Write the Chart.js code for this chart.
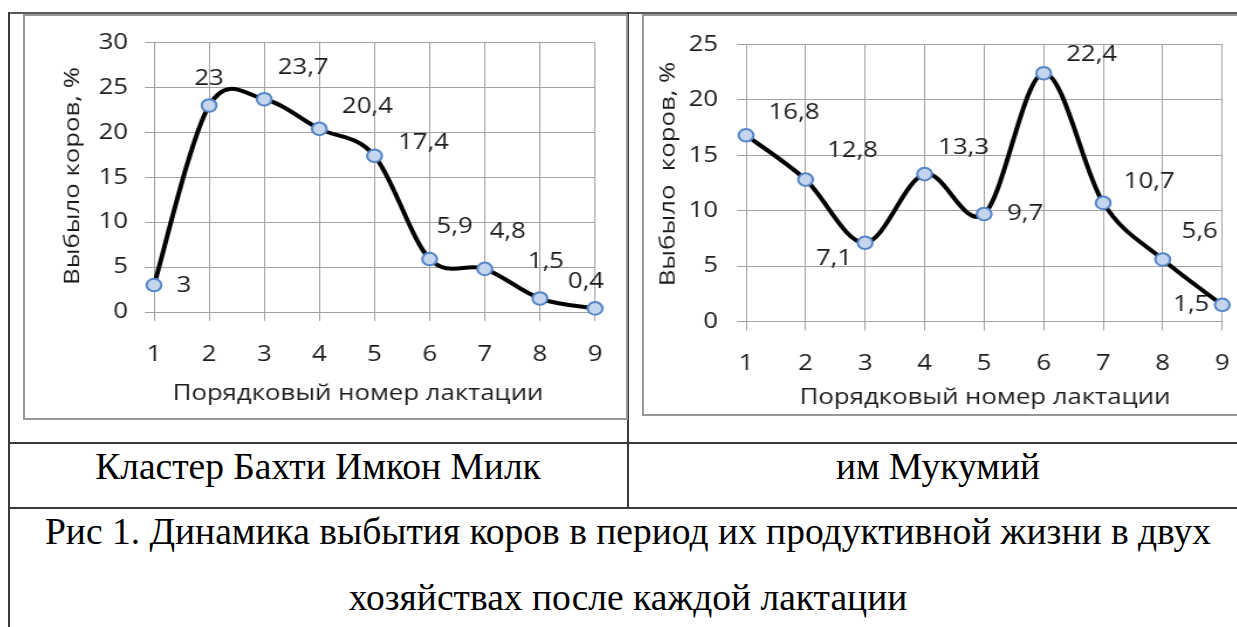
<!DOCTYPE html>
<html lang="ru">
<head>
<meta charset="utf-8">
<title>Динамика выбытия коров</title>
<script src="https://cdn.jsdelivr.net/npm/chart.js@4.4.1/dist/chart.umd.min.js"></script>
<style>
  html, body { margin: 0; padding: 0; background: #fff; }
  body { position: relative; width: 1237px; height: 627px; overflow: hidden;
         font-family: "Liberation Serif", "Times New Roman", serif; }
  .ln { position: absolute; background: #3a3a3a; }
  .box { position: absolute; border: 2px solid #979797; box-sizing: border-box; }
  canvas { position: absolute; }
  .cap { position: absolute; font-size: 37.5px; line-height: 37.5px; color: #000;
         text-align: center; white-space: nowrap; }
</style>
</head>
<body>
  <!-- table grid -->
  <div class="ln" style="left:8px;top:12px;width:1229px;height:2px;background:#5a5a5a"></div>
  <div class="ln" style="left:8px;top:12px;width:2px;height:615px"></div>
  <div class="ln" style="left:627px;top:12px;width:2px;height:496px"></div>
  <div class="ln" style="left:8px;top:442px;width:1229px;height:2px"></div>
  <div class="ln" style="left:8px;top:507px;width:1229px;height:2px"></div>

  <!-- the chart canvases are drawn narrower and widened on screen (Calibri-like wide text) -->
  <canvas id="chartLeft" width="515" height="404" style="left:24px;top:15px;width:603px;height:404px"></canvas>
  <canvas id="chartRight" width="521" height="400" style="left:643px;top:15px;width:610px;height:400px"></canvas>
  <div class="box" style="left:23px;top:14px;width:605px;height:406px"></div>
  <div class="box" style="left:642px;top:14px;width:620px;height:402px"></div>

  <div class="cap" style="left:8px;top:448px;width:620px">Кластер Бахти Имкон Милк</div>
  <div class="cap" style="left:628px;top:448px;width:620px">им Мукумий</div>
  <div class="cap" style="left:8px;top:513px;width:1240px">Рис 1. Динамика выбытия коров в период их продуктивной жизни в двух</div>
  <div class="cap" style="left:8px;top:579px;width:1240px">хозяйствах после каждой лактации</div>

<script>
// Lactation numbers and share of cows culled after each one, %
const lactations = ['1', '2', '3', '4', '5', '6', '7', '8', '9'];
const bakhtiImkonMilk = [3, 23, 23.7, 20.4, 17.4, 5.9, 4.8, 1.5, 0.4];
const imMukumiy = [16.8, 12.8, 7.1, 13.3, 9.7, 22.4, 10.7, 5.6, 1.5];

const bakhtiAxisMax = 30;
const mukumiyAxisMax = 25;
const axisStep = 5;

const yTitleLeft = 'Выбыло коров, %';
const yTitleRight = 'Выбыло  коров, %';
const xTitle = 'Порядковый номер лактации';

// where each value label sits relative to its marker (screen px)
const bakhtiLabelShift = [[30, 1], [0, -27], [39, -32], [48, -22], [49, -13], [25, -32], [23, -37], [6, -37], [-9, -27]];
const mukumiyLabelShift = [[48, -23], [47, -29], [-31, 16], [39, -26], [41, 0], [48, -18], [46, -21], [37, -28], [-31, 0]];

const FONT = '"Open Sans", "Noto Sans", sans-serif';
const FONT_SIZE = 22;
const TEXT = '#1c1c1c';
const GRID = '#a2a2a2';

Chart.defaults.font.family = FONT;
Chart.defaults.font.size = FONT_SIZE;
Chart.defaults.color = TEXT;

// horizontal widening of a canvas on screen
function stretchOf(chart) {
  return chart.canvas.getBoundingClientRect().width / chart.canvas.width;
}

// Smoothed line: uniform Catmull-Rom control points (1/6 of neighbour span)
const smoothCurve = {
  id: 'smoothCurve',
  beforeDatasetDraw(chart, args) {
    const meta = args.meta;
    meta.dataset.updateControlPoints(chart.chartArea, meta.iScale.axis);
    const p = meta.data;
    const n = p.length;
    for (let i = 0; i < n; i++) {
      const prev = p[Math.max(i - 1, 0)];
      const next = p[Math.min(i + 1, n - 1)];
      const dx = (next.x - prev.x) / 6;
      const dy = (next.y - prev.y) / 6;
      p[i].cp1x = p[i].x - dx; p[i].cp1y = p[i].y - dy;
      p[i].cp2x = p[i].x + dx; p[i].cp2y = p[i].y + dy;
    }
  }
};

function valueLabels(shifts) {
  return {
    id: 'valueLabels',
    afterDatasetsDraw(chart) {
      const ctx = chart.ctx;
      const k = stretchOf(chart);
      const meta = chart.getDatasetMeta(0);
      const values = chart.data.datasets[0].data;
      ctx.save();
      ctx.font = FONT_SIZE + 'px ' + FONT;
      ctx.fillStyle = TEXT;
      ctx.textAlign = 'center';
      ctx.textBaseline = 'middle';
      meta.data.forEach((pt, i) => {
        const [ox, oy] = shifts[i];
        ctx.fillText(String(values[i]).replace('.', ','), pt.x + ox / k, pt.y + oy);
      });
      ctx.restore();
    }
  };
}

// Axis titles; the vertical one keeps its glyph shape under the horizontal widening
function axisTitles(t) {
  return {
    id: 'axisTitles',
    afterDraw(chart) {
      const ctx = chart.ctx;
      const k = stretchOf(chart);
      ctx.save();
      ctx.font = FONT_SIZE + 'px ' + FONT;
      ctx.fillStyle = TEXT;
      ctx.textAlign = 'center';
      ctx.textBaseline = 'middle';
      ctx.fillText(xTitle, t.xAt[0] / k, t.xAt[1]);
      ctx.translate(t.yAt[0] / k, t.yAt[1]);
      ctx.scale(1 / k, 1);
      ctx.rotate(-Math.PI / 2);
      ctx.scale(k, 1);
      ctx.fillText(t.yText, 0, 0);
      ctx.restore();
    }
  };
}

function buildChart(id, values, yMax, shifts, titles, g) {
  return new Chart(document.getElementById(id), {
    type: 'line',
    data: {
      labels: lactations,
      datasets: [{
        data: values,
        borderColor: '#000',
        borderWidth: 4,
        borderCapStyle: 'round',
        borderJoinStyle: 'round',
        tension: 0.4,
        clip: false,
        pointRadius: 6.3,
        pointBorderWidth: 2,
        pointBackgroundColor: '#c6d5ee',
        pointBorderColor: '#5585c6'
      }]
    },
    options: {
      responsive: false,
      animation: false,
      events: [],
      layout: { padding: { top: g.padTop, right: g.padRight, left: 0, bottom: 0 } },
      plugins: { legend: { display: false }, tooltip: { enabled: false } },
      scales: {
        x: {
          type: 'category',
          offset: false,
          border: { display: false },
          grid: { color: GRID, lineWidth: 1, tickLength: 9, tickColor: GRID },
          ticks: { padding: g.xTickPad, maxRotation: 0, autoSkip: false, color: TEXT },
          afterFit(s) { s.height = g.xHeight; }
        },
        y: {
          min: 0,
          max: yMax,
          border: { display: false },
          grid: { color: GRID, lineWidth: 1, tickLength: 7.7, tickColor: GRID },
          ticks: { stepSize: axisStep, padding: g.yTickPad, color: TEXT },
          afterFit(s) { s.width = g.yWidth; }
        }
      }
    },
    plugins: [smoothCurve, valueLabels(shifts), axisTitles(titles)]
  });
}

buildChart('chartLeft', bakhtiImkonMilk, bakhtiAxisMax, bakhtiLabelShift,
  { xAt: [334, 379], yAt: [49, 161], yText: yTitleLeft },
  { padTop: 23, padRight: 20.5, yWidth: 111, yTickPad: 14.5, xHeight: 107, xTickPad: 21 });

buildChart('chartRight', imMukumiy, mukumiyAxisMax, mukumiyLabelShift,
  { xAt: [342, 383], yAt: [25, 159], yText: yTitleRight },
  { padTop: 20, padRight: 23.8, yWidth: 88, yTickPad: 16.2, xHeight: 93.5, xTickPad: 20 });
</script>
</body>
</html>
